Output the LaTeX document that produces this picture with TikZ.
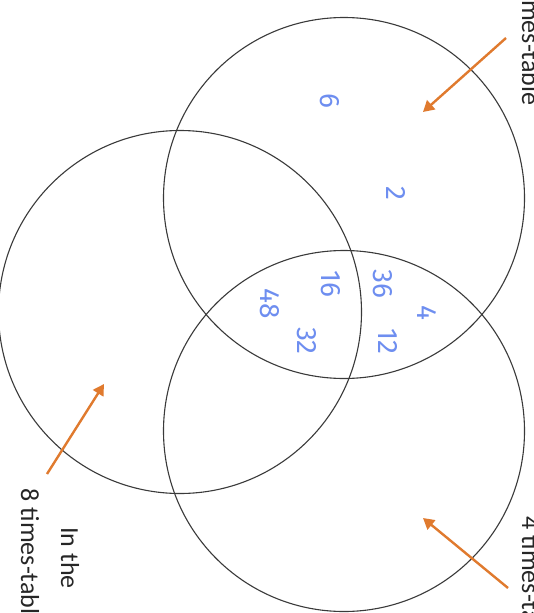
\documentclass[tikz,border=0pt]{standalone}
\usepackage{fontspec}
\setmainfont{Carlito}
\newfontfamily\handfont{Fira Sans}
\usetikzlibrary{arrows.meta}
\definecolor{ringc}{HTML}{3A3A3A}
\definecolor{arrowc}{HTML}{E07A2E}
\definecolor{numc}{HTML}{6E8EF0}
\tikzset{
  ring/.style={draw=ringc, line width=1.1pt},
  pointer/.style={draw=arrowc, line width=2.4pt, -{Triangle[length=11pt,width=12pt]}},
  num/.style={text=numc, font=\handfont\fontsize{28}{28}\selectfont, rotate=-90, inner sep=0pt},
  label/.style={font=\fontsize{26}{40}\selectfont, rotate=-90, align=center, text=black!85, inner sep=0pt}
}
\begin{document}
\begin{tikzpicture}[x=1pt,y=-1pt]
\useasboundingbox (0,0) rectangle (533,613);
\clip (0,0) rectangle (533,613);
\fill[white] (0,0) rectangle (533,613);
% circles
\node[ring, circle, minimum size=361pt, inner sep=0pt] (two) at (344,198) {};
\node[ring, circle, minimum size=363pt, inner sep=0pt] (eight) at (180,312) {};
\node[ring, circle, minimum size=361pt, inner sep=0pt] (four) at (344,431) {};
% numbers
\node[num] (n6) at (330,101) {6};
\node[num] (n2) at (396,193) {2};
\node[num] (n4) at (427,313) {4};
\node[num] (n36) at (383,284) {36};
\node[num] (n12) at (388,341) {12};
\node[num] (n16) at (331,284) {16};
\node[num] (n32) at (307,341) {32};
\node[num] (n48) at (270,304) {48};
% labels
\node[label] (l8) at (50,558) {In the\\8 times-table};
\node[label] (l2) at (551,36) {In the\\2 times-table};
\node[label] (l4) at (551,586) {In the\\4 times-table};
% arrows
\coordinate (a2s) at (506,38);
\coordinate (a2e) at (423,112);
\coordinate (a8s) at (47,474);
\coordinate (a8e) at (104,384);
\coordinate (a4s) at (508,588);
\coordinate (a4e) at (423,518);
\draw[pointer] (a2s) -- (a2e);
\draw[pointer] (a8s) -- (a8e);
\draw[pointer] (a4s) -- (a4e);
\end{tikzpicture}
\end{document}
